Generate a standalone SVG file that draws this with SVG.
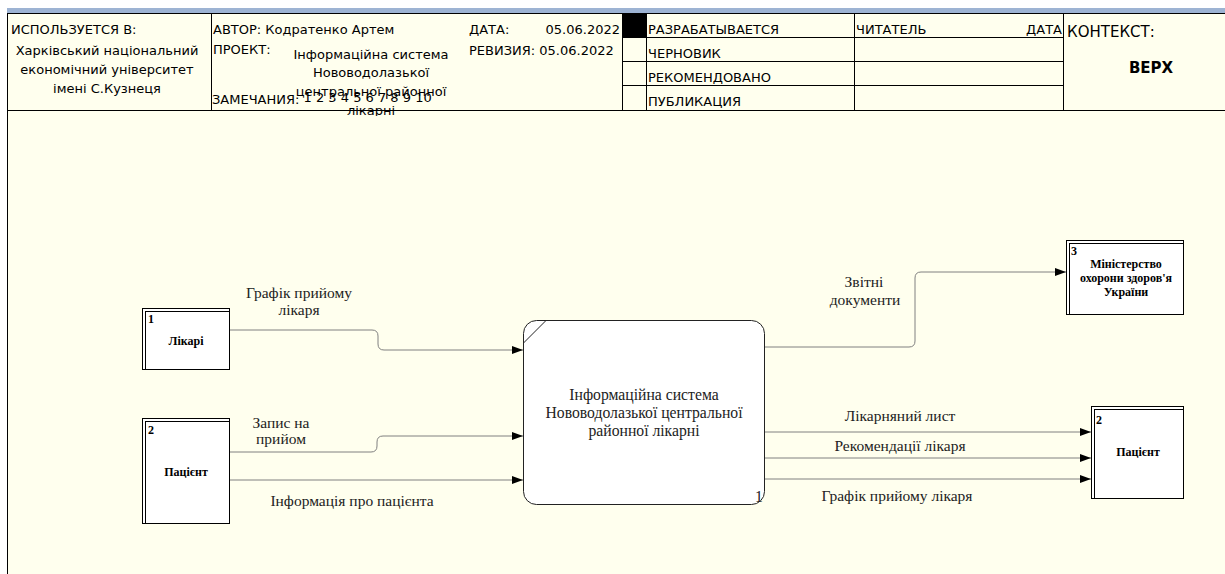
<svg xmlns="http://www.w3.org/2000/svg" width="1225" height="574" viewBox="0 0 1225 574">
<style>
.hdr{font-family:"DejaVu Sans",sans-serif;font-size:13px;fill:#000}
.ln{stroke:#000;stroke-width:1;fill:none}
.ent{fill:#fff;stroke:#000;stroke-width:1}
.etx{font-family:"Liberation Serif","Times New Roman",serif;font-size:12px;font-weight:bold;fill:#000}
.lbl{font-family:"Liberation Serif","Times New Roman",serif;font-size:15.5px;fill:#222}
.ptx{font-family:"Liberation Serif","Times New Roman",serif;font-size:15.7px;fill:#222}
.con{stroke:#808080;stroke-width:1;fill:none;marker-end:url(#arr)}
</style>
<defs>
<marker id="arr" markerUnits="userSpaceOnUse" viewBox="0 0 11 8" refX="11" refY="4" markerWidth="11" markerHeight="8" orient="auto">
<path d="M0,0 L11,4 L0,8 z" fill="#000"/>
</marker>
<clipPath id="hclip"><rect x="211" y="13" width="411" height="103"/></clipPath>
</defs>
<rect x="0" y="0" width="1225" height="574" fill="#fff"/>
<rect x="7" y="8" width="1218" height="566" fill="#FFFFEE"/>
<rect x="7" y="8" width="1218" height="5" fill="#9DB3D3"/>
<g id="header">
<line class="ln" x1="7" y1="13.5" x2="1225" y2="13.5"/>
<line class="ln" x1="7" y1="110.5" x2="1225" y2="110.5"/>
<line class="ln" x1="7.5" y1="13" x2="7.5" y2="574"/>
<line class="ln" x1="211.5" y1="13" x2="211.5" y2="110"/>
<line class="ln" x1="622.5" y1="13" x2="622.5" y2="110"/>
<line class="ln" x1="646.5" y1="13" x2="646.5" y2="110"/>
<line class="ln" x1="854.5" y1="13" x2="854.5" y2="110"/>
<line class="ln" x1="1063.5" y1="13" x2="1063.5" y2="110"/>
<rect x="622" y="14" width="25" height="23" fill="#000"/>
<line class="ln" x1="622" y1="37.5" x2="1063" y2="37.5"/>
<line class="ln" x1="622" y1="61.5" x2="1063" y2="61.5"/>
<line class="ln" x1="622" y1="85.5" x2="1063" y2="85.5"/>
<text class="hdr" x="11" y="34">ИСПОЛЬЗУЕТСЯ В:</text>
<text class="hdr" x="107" y="55" text-anchor="middle">Харківський національний</text>
<text class="hdr" x="107" y="74" text-anchor="middle">економічний університет</text>
<text class="hdr" x="107" y="93" text-anchor="middle">імені С.Кузнеця</text>
<text class="hdr" x="213" y="34">АВТОР: Кодратенко Артем</text>
<text class="hdr" x="213" y="54">ПРОЕКТ:</text>
<g clip-path="url(#hclip)">
<text class="hdr" x="371" y="59" text-anchor="middle">Інформаційна система</text>
<text class="hdr" x="371" y="77" text-anchor="middle">Нововодолазької</text>
<text class="hdr" x="371" y="96" text-anchor="middle">центральної районної</text>
<text class="hdr" x="371" y="115" text-anchor="middle">лікарні</text>
</g>
<text class="hdr" x="212" y="104">ЗАМЕЧАНИЯ: <tspan dy="-2">1 2 3 4 5 6 7 8 9 10</tspan></text>
<text class="hdr" x="469" y="34">ДАТА:</text>
<text class="hdr" x="620" y="34" text-anchor="end">05.06.2022</text>
<text class="hdr" x="469" y="55">РЕВИЗИЯ: 05.06.2022</text>
<text class="hdr" x="648" y="34">РАЗРАБАТЫВАЕТСЯ</text>
<text class="hdr" x="648" y="58">ЧЕРНОВИК</text>
<text class="hdr" x="648" y="82">РЕКОМЕНДОВАНО</text>
<text class="hdr" x="648" y="106">ПУБЛИКАЦИЯ</text>
<text class="hdr" x="856" y="34">ЧИТАТЕЛЬ</text>
<text class="hdr" x="1062" y="34" text-anchor="end">ДАТА</text>
<text class="hdr" x="1067" y="37" style="font-size:15px">КОНТЕКСТ:</text>
<text class="hdr" x="1151" y="73" text-anchor="middle" style="font-size:15px;font-weight:bold">ВЕРХ</text>
</g>
<g id="connectors">
<path class="con" d="M229,330 H372 Q378,330 378,336 V344 Q378,350 384,350 H523"/>
<path class="con" d="M229,452 H371 Q377,452 377,446 V442 Q377,436 383,436 H523"/>
<path class="con" d="M229,480 H523"/>
<path class="con" d="M765,347 H909 Q915,347 915,341 V278 Q915,272 921,272 H1066"/>
<path class="con" d="M765,432 H1091"/>
<path class="con" d="M765,458 H1091"/>
<path class="con" d="M765,479 H1091"/>
<text class="lbl" x="299" y="298" text-anchor="middle">Графік прийому</text>
<text class="lbl" x="299" y="315" text-anchor="middle">лікаря</text>
<text class="lbl" x="281" y="428" text-anchor="middle">Запис на</text>
<text class="lbl" x="281" y="444" text-anchor="middle">прийом</text>
<text class="lbl" x="352" y="506" text-anchor="middle">Інформація про пацієнта</text>
<text class="lbl" x="864" y="287" text-anchor="middle">Звітні</text>
<text class="lbl" x="865" y="305" text-anchor="middle">документи</text>
<text class="lbl" x="900" y="421" text-anchor="middle">Лікарняний лист</text>
<text class="lbl" x="900" y="451" text-anchor="middle">Рекомендації лікаря</text>
<text class="lbl" x="897" y="501" text-anchor="middle">Графік прийому лікаря</text>
</g>
<g id="process1">
<rect x="523.5" y="320.5" width="241" height="184" rx="13" ry="13" fill="#fff" stroke="#222" stroke-width="1"/>
<line x1="523.5" y1="343" x2="546" y2="320.5" stroke="#222" stroke-width="1"/>
<text class="ptx" x="644" y="400" text-anchor="middle">Інформаційна система</text>
<text class="ptx" x="644" y="418" text-anchor="middle">Нововодолазької центральної</text>
<text class="ptx" x="644" y="436" text-anchor="middle">районної лікарні</text>
<text class="ptx" x="755" y="502">1</text>
</g>
<g id="entity1">
<rect class="ent" x="142.5" y="308.5" width="87" height="61"/>
<line class="ln" x1="145.5" y1="311" x2="145.5" y2="369"/>
<line class="ln" x1="145" y1="311.5" x2="229" y2="311.5"/>
<text class="etx" x="148" y="323">1</text>
<text class="etx" x="186" y="345" text-anchor="middle">Лікарі</text>
</g>
<g id="entity2">
<rect class="ent" x="142.5" y="418.5" width="87" height="105"/>
<line class="ln" x1="145.5" y1="421" x2="145.5" y2="523"/>
<line class="ln" x1="145" y1="421.5" x2="229" y2="421.5"/>
<text class="etx" x="148" y="434">2</text>
<text class="etx" x="186" y="476" text-anchor="middle">Пацієнт</text>
</g>
<g id="entity3">
<rect class="ent" x="1066.5" y="240.5" width="117" height="74"/>
<line class="ln" x1="1069.5" y1="243" x2="1069.5" y2="314"/>
<line class="ln" x1="1069" y1="243.5" x2="1183" y2="243.5"/>
<text class="etx" x="1071" y="255">3</text>
<text class="etx" x="1126" y="268" text-anchor="middle">Міністерство</text>
<text class="etx" x="1126" y="282" text-anchor="middle">охорони здоров'я</text>
<text class="etx" x="1126" y="296" text-anchor="middle">України</text>
</g>
<g id="entity2b">
<rect class="ent" x="1091.5" y="406.5" width="92" height="92"/>
<line class="ln" x1="1094.5" y1="409" x2="1094.5" y2="498"/>
<line class="ln" x1="1094" y1="409.5" x2="1183" y2="409.5"/>
<text class="etx" x="1096" y="424">2</text>
<text class="etx" x="1138" y="456" text-anchor="middle">Пацієнт</text>
</g>
</svg>
